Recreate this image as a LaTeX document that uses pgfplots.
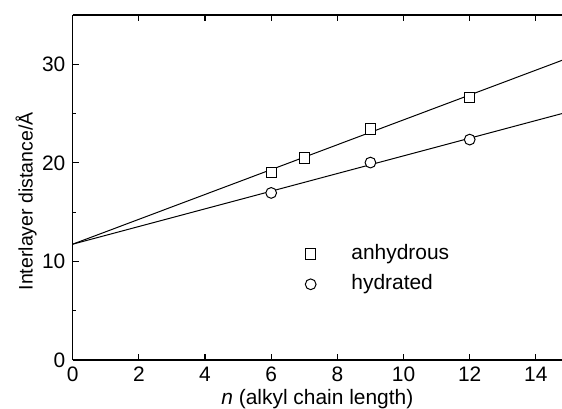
\documentclass[border=0pt]{standalone}
\usepackage{pgfplots}
\pgfplotsset{compat=1.18}
\usepackage{fontspec}
\setmainfont{Liberation Sans}
\begin{document}
\fontsize{10.5}{12}\selectfont
\begin{tikzpicture}
\useasboundingbox (0,0) rectangle (281bp,204.5bp);
\begin{axis}[
  at={(36.35bp,24.5bp)}, anchor=south west,
  scale only axis, width=244.65bp, height=172.5bp,
  xmin=0, xmax=14.79, ymin=0, ymax=35,
  axis x line*=box, axis y line*=left,
  axis line style={line width=0.6pt, -},
  xtick={0,2,...,14}, ytick={0,10,20,30},
  minor ytick={5,15,25},
  xticklabel pos=bottom, xtick pos=both,
  ytick pos=left,
  tick align=inside,
  major tick length=3bp, minor tick length=1.7bp,
  tick style={line width=0.6pt, black},
  /pgf/number format/assume math mode=true,
  tick label style={font=\fontsize{10.5}{12}\selectfont},
  x label style={font=\fontsize{10.5}{12}\selectfont, at={(ticklabel cs:0.5,-3.5bp)}},
  y label style={font=\fontsize{9.8}{12}\selectfont, at={(ticklabel cs:0.46,-4.5bp)}},
  xlabel={\textit{n} (alkyl chain length)},
  ylabel={Interlayer distance/Å},
  legend image code/.code={\draw[#1] plot coordinates {(2.8bp,0bp)}; \path (0bp,0bp) (21.5bp,0bp);},
  legend style={draw=none, fill=none, inner sep=0pt, at={(axis cs:7.0,9.22)}, anchor=west,
    nodes={inner sep=1.5pt, text height=7.5bp, text depth=2.2bp, font=\fontsize{10.5}{12}\selectfont},
    row sep=2.5bp},
  legend cell align=left,
]
\addplot[black, line width=0.5pt, forget plot] coordinates {(0,11.75) (14.79,30.4)};
\addplot[black, line width=0.5pt, forget plot] coordinates {(0,11.75) (14.79,25.0)};
\addplot[only marks, mark=square*, mark size=2.6pt, mark options={draw=black, fill=white, line width=0.5pt}]
  coordinates {(6,19.02) (7,20.5) (9,23.44) (12,26.6)};
\addlegendentry{anhydrous}
\addplot[only marks, mark=*, mark size=2.7pt, mark options={draw=black, fill=white, line width=0.5pt}]
  coordinates {(6,16.95) (9,20.03) (12,22.36)};
\addlegendentry{hydrated}
\end{axis}
\end{tikzpicture}
\end{document}
